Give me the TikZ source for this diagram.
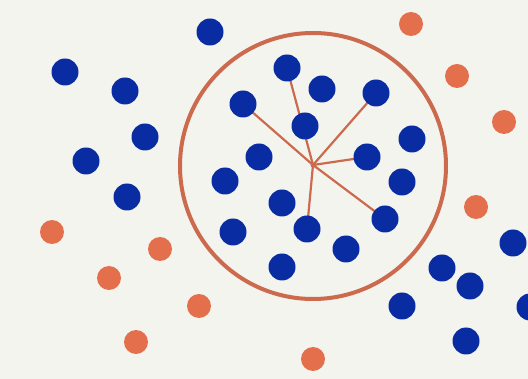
\documentclass[tikz,border=0pt]{standalone}
\usepackage{tikz}
\usetikzlibrary{backgrounds}
\definecolor{dotblue}{HTML}{0A2CA2}
\definecolor{dotorange}{HTML}{E46F4C}
\definecolor{ringorange}{HTML}{CC6A4E}
\definecolor{paper}{HTML}{F4F4EF}
\tikzset{
  % punti
  dot/.style={circle,inner sep=0,outer sep=0,minimum size=27},
  dot blue/.style={dot,fill=dotblue},
  dot orange/.style={dot,fill=dotorange,minimum size=24},
  dot centre/.style={dot,fill=ringorange,minimum size=5},
  % cerchio e collegamenti
  ring/.style={circle,draw=ringorange,line width=4,minimum size=266,inner sep=0},
  link/.style={draw=ringorange,line width=2.2}
}

\begin{document}
\begin{tikzpicture}[x=1pt,y=-1pt]
        \useasboundingbox (0,0) rectangle (528,379);
        \node[ring] (ring) at (313,166) {};
        \node[dot centre] (c) at (313,165) {};
        % punti dentro il cerchio
        \foreach \px/\py [count=\i] in {287/68, 322/89, 376/93, 243/104, 305/126,
                             412/139, 259/157, 367/157, 225/181, 402/182, 282/203,
                             385/219, 233/232, 307/229, 346/249, 282/267}{
          \node[dot blue] (in\i) at (\px,\py) {};
        }
        % punti fuori
        \foreach \px/\py [count=\i] in {210/32, 65/72, 125/91, 145/137, 86/161,
                             127/197, 513/243, 442/268, 470/286, 530/307,
                             402/306, 466/341}{
          \node[dot blue] (out\i) at (\px,\py) {};
        }
        \foreach \px/\py [count=\i] in {411/24, 457/76, 504/122, 476/207, 52/232,
                             160/249, 109/278, 199/306, 136/342, 313/359}{
          \node[dot orange] (or\i) at (\px,\py) {};
        }
        \begin{scope}[on background layer]
          \fill[paper] (0,0) rectangle (528,379);
          \foreach \n in {in1, in3, in4, in8, in12, in14}{
            \draw[link] (c.center) -- (\n.center);
          }
        \end{scope}
      \end{tikzpicture}
\end{document}
